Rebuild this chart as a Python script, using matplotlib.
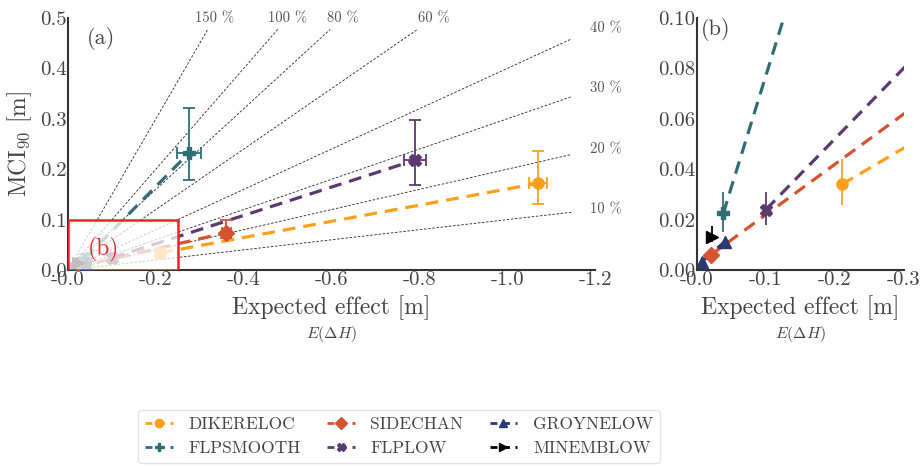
import numpy as np
import matplotlib
matplotlib.use("Agg")
import matplotlib.pyplot as plt
from matplotlib.patches import Rectangle
from matplotlib.lines import Line2D
from matplotlib.ticker import FuncFormatter

# --- data ---
names = ["DIKERELOC", "FLPSMOOTH", "SIDECHAN", "FLPLOW", "GROYNELOW", "MINEMBLOW"]
colors = ["#ffa01c", "#2f6f74", "#d6532f", "#5b3a70", "#2b3874", "#000000"]
markers = ["o", "P", "D", "X", "^", ">"]

# expected effect E(dH) [m]
x_dikereloc = [-0.21, -1.07]
x_flpsmooth = [-0.038, -0.275]
x_sidechan = [-0.02, -0.36]
x_flplow = [-0.10, -0.79]
x_groynelow = [-0.007, -0.04]
x_minemblow = [-0.022]

# MCI90 [m]
y_dikereloc = [0.034, 0.172]
y_flpsmooth = [0.0225, 0.232]
y_sidechan = [0.006, 0.074]
y_flplow = [0.024, 0.218]
y_groynelow = [0.0033, 0.0112]
y_minemblow = [0.013]

# error bars (lower, upper) on MCI90
ylo_dikereloc = [0.026, 0.131]
yhi_dikereloc = [0.044, 0.237]
ylo_flpsmooth = [0.015, 0.179]
yhi_flpsmooth = [0.031, 0.321]
ylo_sidechan = [0.005, 0.063]
yhi_sidechan = [0.007, 0.099]
ylo_flplow = [0.018, 0.169]
yhi_flplow = [0.031, 0.298]
ylo_groynelow = [0.003, 0.010]
yhi_groynelow = [0.004, 0.013]
ylo_minemblow = [0.011]
yhi_minemblow = [0.0175]

# error on expected effect
xerr_dikereloc = [0.004, 0.02]
xerr_flpsmooth = [0.003, 0.028]
xerr_sidechan = [0.002, 0.01]
xerr_flplow = [0.003, 0.024]
xerr_groynelow = [0.001, 0.002]
xerr_minemblow = [0.002]

ratio_pct = [150, 100, 80, 60, 40, 30, 20, 10]

xs = [x_dikereloc, x_flpsmooth, x_sidechan, x_flplow, x_groynelow, x_minemblow]
ys = [y_dikereloc, y_flpsmooth, y_sidechan, y_flplow, y_groynelow, y_minemblow]
ylos = [ylo_dikereloc, ylo_flpsmooth, ylo_sidechan, ylo_flplow, ylo_groynelow, ylo_minemblow]
yhis = [yhi_dikereloc, yhi_flpsmooth, yhi_sidechan, yhi_flplow, yhi_groynelow, yhi_minemblow]
xerrs = [xerr_dikereloc, xerr_flpsmooth, xerr_sidechan, xerr_flplow, xerr_groynelow, xerr_minemblow]

# --- style ---
plt.rcParams["font.family"] = "serif"
plt.rcParams["font.serif"] = ["cmr10"]
plt.rcParams["mathtext.fontset"] = "cm"
plt.rcParams["axes.unicode_minus"] = False
plt.rcParams["axes.formatter.use_mathtext"] = True
TXT = "#444444"

fig = plt.figure(figsize=(9.22, 4.67), dpi=100)
ax = fig.add_axes([0.0738, 0.4218, 0.5716, 0.5396])
axb = fig.add_axes([0.756, 0.4218, 0.2245, 0.5396])

XMAX, YMAX = 1.2, 0.5

# reference ratio lines
for p in ratio_pct:
    r = p / 100
    xe = min(XMAX, YMAX / r)
    ax.plot([0, -0.955 * xe], [0, 0.955 * xe * r], ls=(0, (3, 2)), lw=0.6,
            color="#222222", zorder=1)
    if r * XMAX > YMAX:
        ax.text(-YMAX / r, YMAX, f"{p} %", ha="center", va="center",
                fontsize=10.5, color="#555555", clip_on=False)
    else:
        ax.text(-1.225, r * XMAX, f"{p} %", ha="center", va="center",
                fontsize=10.5, color="#555555", clip_on=False)

for a, cap, big in [(ax, 4, True), (axb, 0, False)]:
    for i in range(len(names)):
        x = np.array(xs[i])
        y = np.array(ys[i])
        yerr = [y - np.array(ylos[i]), np.array(yhis[i]) - y]
        a.plot(x, y, ls="--", lw=2.3, color=colors[i], dashes=(4, 2.5), zorder=3)
        a.errorbar(x, y, yerr=yerr, xerr=xerrs[i] if big else None, fmt=markers[i],
                   color=colors[i], ms=8, elinewidth=1.3, capsize=cap,
                   capthick=1.3, zorder=4)

# zoom box on panel (a)
ax.add_patch(Rectangle((0, 0), -0.25, 0.1, facecolor="white", alpha=0.75,
                       edgecolor="none", zorder=5))
ax.add_patch(Rectangle((0, 0), -0.25, 0.1, facecolor="none",
                       edgecolor="#ee2222", lw=1.8, zorder=6))
ax.text(-0.08, 0.04, "(b)", color="#ee2222", fontsize=17, ha="center",
        va="center", zorder=7)
ax.text(-0.075, 0.46, "(a)", color=TXT, fontsize=16, ha="center", va="center")
axb.text(0.02, 1.0, "(b)", color=TXT, fontsize=16, ha="left", va="top",
         transform=axb.transAxes)

ax.set_xlim(0, -XMAX)
ax.set_ylim(0, YMAX)
axb.set_xlim(0, -0.3)
axb.set_ylim(0, 0.1)
ax.set_xticks([0, -0.2, -0.4, -0.6, -0.8, -1.0, -1.2])
ax.set_yticks([0, 0.1, 0.2, 0.3, 0.4, 0.5])
axb.set_xticks([0, -0.1, -0.2, -0.3])
axb.set_yticks([0, 0.02, 0.04, 0.06, 0.08, 0.10])
ax.xaxis.set_major_formatter(FuncFormatter(lambda v, _: f"-{abs(v):.1f}"))
ax.yaxis.set_major_formatter(FuncFormatter(lambda v, _: f"{v:.1f}"))
axb.xaxis.set_major_formatter(FuncFormatter(lambda v, _: f"-{abs(v):.1f}"))
axb.yaxis.set_major_formatter(FuncFormatter(lambda v, _: f"{v:.2f}"))

for a in (ax, axb):
    for s in ("top", "right"):
        a.spines[s].set_visible(False)
    for s in ("left", "bottom"):
        a.spines[s].set_color("#333333")
        a.spines[s].set_linewidth(1.5)
    a.tick_params(length=0, pad=1, labelsize=15, labelcolor=TXT)
    a.set_xlabel("Expected effect [m]", fontsize=17, color=TXT, labelpad=4)
    a.text(0.5, -0.255, r"$E(\Delta H)$", transform=a.transAxes, ha="center",
           va="center", fontsize=11.5, color=TXT)
ax.set_ylabel(r"MCI$_{90}$ [m]", fontsize=17, color=TXT, labelpad=4)

# legend
handles = [Line2D([], [], ls="--", dashes=(2.5, 2), lw=2, color=colors[i],
                  marker=markers[i], ms=6) for i in range(len(names))]
fig.legend(handles, names, loc="lower center", ncol=3, bbox_to_anchor=(0.433, -0.01),
           fontsize=12.5, frameon=True, edgecolor="#dddddd", handlelength=1.6,
           handletextpad=0.9, columnspacing=1.5, labelcolor=TXT, labelspacing=0.5)

fig.savefig("out.png", dpi=100)
